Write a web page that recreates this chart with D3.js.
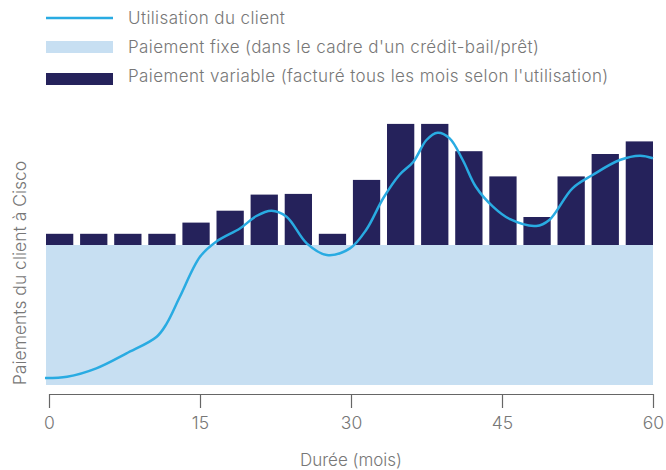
<!DOCTYPE html>
<html>
<head>
<meta charset="utf-8">
<script src="https://cdn.jsdelivr.net/npm/d3@7"></script>
<style>
  body { margin: 0; background: #fff; }
  text { font-family: Inter, Roboto, sans-serif; font-weight: 300; fill: #777; }
</style>
</head>
<body>
<svg class="chart"></svg>
<script>
// stacked payments: fixed part + variable part per period (arbitrary units)
const fixedPayment = 100
const variablePayment = [8, 8, 8, 8, 16, 24.5, 36, 36.5, 8, 46.5, 86.5, 86.5, 67, 49, 20, 49, 65, 74]
// customer usage curve (month, value)
const usageMonths = [-0.4, 1.8, 4.7, 7.7, 10.7, 11.7, 13, 15, 16.6, 19, 20.6, 22.1, 23.6, 25.6, 27.6, 29.9, 31.5, 33.2, 34.8, 36.2, 37.5, 38.6, 39.8, 41.1, 42.4, 44.1, 45.8, 48.4, 49.7, 52, 54, 56.7, 58.7, 60]
const usageValues = [5, 5.9, 11.9, 22.6, 34.5, 44, 63, 91.6, 102.4, 112, 120.7, 124.5, 120.2, 101.2, 92.9, 97.6, 110.7, 133.4, 150, 159.5, 175, 180.2, 176.2, 160.7, 141.6, 127.4, 118.4, 113.6, 117.9, 140.5, 150, 160.7, 163.8, 162]
const xTicks = [0, 15, 30, 45, 60]
const legendLabels = [
  "Utilisation du client",
  "Paiement fixe (dans le cadre d'un crédit-bail/prêt)",
  "Paiement variable (facturé tous les mois selon l'utilisation)"
]

const colors = { usage: "#29abe2", fixed: "#c7dff2", variable: "#25225b" }
const width = 666, height = 470
const svg = d3.select(".chart").attr("width", width).attr("height", height)

const xScale = d3.scaleLinear().domain([0, 60]).range([49, 653])
const yScale = d3.scaleLinear().domain([0, 200]).range([385, 105])
const band = d3.scaleBand().domain(d3.range(variablePayment.length)).range([46, 653]).paddingInner(0.2).paddingOuter(0)

// fixed payment area
svg.append("rect")
  .attr("x", band.range()[0]).attr("width", band.range()[1] - band.range()[0])
  .attr("y", yScale(fixedPayment)).attr("height", yScale(0) - yScale(fixedPayment))
  .attr("fill", colors.fixed)

// variable payment bars on top of fixed
svg.selectAll(".bar")
  .data(variablePayment)
  .join("rect").attr("class", "bar")
  .attr("x", (d, i) => band(i)).attr("width", band.bandwidth())
  .attr("y", d => yScale(fixedPayment + d))
  .attr("height", d => yScale(fixedPayment) - yScale(fixedPayment + d))
  .attr("fill", colors.variable)

// usage line
const usage = usageMonths.map((m, i) => ({ m: m, v: usageValues[i] }))
const line = d3.line().x(d => xScale(d.m)).y(d => yScale(d.v)).curve(d3.curveCatmullRom)
svg.append("path").datum(usage)
  .attr("d", line).attr("fill", "none")
  .attr("stroke", colors.usage).attr("stroke-width", 2.5)

// x axis
const xAxis = svg.append("g").attr("transform", "translate(0,394)")
  .call(d3.axisBottom(xScale).tickValues(xTicks).tickSize(14).tickPadding(9).tickSizeOuter(0))
xAxis.select(".domain").attr("stroke", "#666").attr("stroke-width", 1.2)
xAxis.selectAll(".tick line").attr("stroke", "#666").attr("stroke-width", 1.2)
xAxis.selectAll(".tick text").style("font-size", "17.5px").attr("fill", "#777")
  .style("font-family", "Inter, sans-serif").style("font-weight", 300)

svg.append("text").attr("x", xScale(30)).attr("y", 466)
  .attr("text-anchor", "middle").style("font-size", "17px").text("Durée (mois)")

svg.append("text").attr("transform", "translate(26,273) rotate(-90)")
  .attr("text-anchor", "middle").style("font-size", "17.5px").text("Paiements du client à Cisco")

// legend
const key = svg.append("g")
key.append("line").attr("x1", 46).attr("x2", 113).attr("y1", 18).attr("y2", 18)
  .attr("stroke", colors.usage).attr("stroke-width", 2.5)
key.append("rect").attr("x", 46).attr("y", 41).attr("width", 67).attr("height", 12).attr("fill", colors.fixed)
key.append("rect").attr("x", 46).attr("y", 73).attr("width", 67).attr("height", 12).attr("fill", colors.variable)
legendLabels.forEach((label, i) => {
  key.append("text").attr("x", 128).attr("y", 18 + i * 29 + 6)
    .style("font-size", "17px").style("letter-spacing", "0.4px").text(label)
})
</script>
</body>
</html>
